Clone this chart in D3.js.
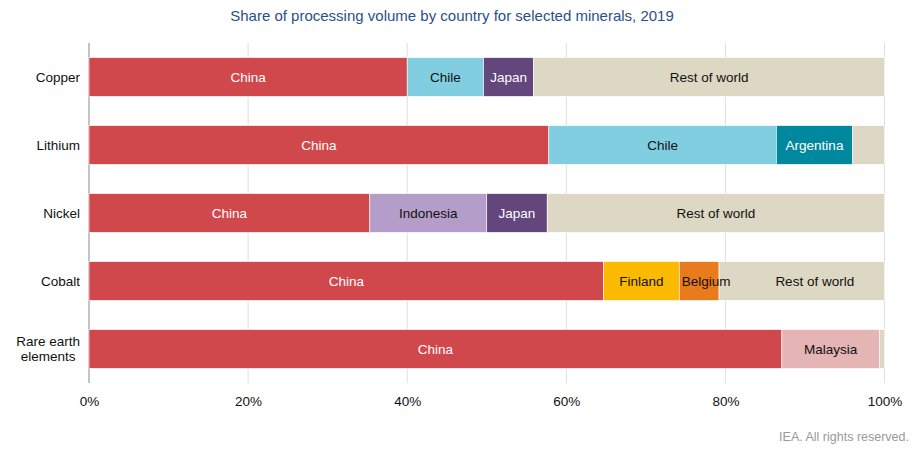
<!DOCTYPE html>
<html lang="en">
<head>
<meta charset="UTF-8">
<title>Processing volume</title>
<script src="https://d3js.org/d3.v7.min.js"></script>
<style>
    body { margin: 0; background: #fff; }
    svg text { font-family: "Liberation Sans", Arial, sans-serif; }
</style>
</head>
<body>
<div id="chart"></div>
<script>
    // minerals (rows) and the country segments for each, in %
    var minerals = ["Copper", "Lithium", "Nickel", "Cobalt", "Rare earth elements"];
    var copper = [["China", 40.0], ["Chile", 9.6], ["Japan", 6.3], ["Rest of world", 44.1]];
    var lithium = [["China", 57.8], ["Chile", 28.6], ["Argentina", 9.6], ["Rest of world", 4.0]];
    var nickel = [["China", 35.3], ["Indonesia", 14.7], ["Japan", 7.6], ["Rest of world", 42.4]];
    var cobalt = [["China", 64.7], ["Finland", 9.5], ["Belgium", 5.0], ["Rest of world", 20.8]];
    var rareEarth = [["China", 87.1], ["Malaysia", 12.25], ["Rest of world", 0.65]];
    var segments = [copper, lithium, nickel, cobalt, rareEarth];
    var ticks = [0, 20, 40, 60, 80, 100];

    var colors = {
        "China": "#d1484c", "Chile": "#81cee1", "Japan": "#63467c",
        "Rest of world": "#ddd8c3", "Argentina": "#00889e", "Indonesia": "#b49dc9",
        "Finland": "#fbb900", "Belgium": "#e97b1c", "Malaysia": "#e5b4b4"
    };
    var lightText = ["China", "Japan", "Argentina"];
    // labels that the original pushes right to avoid crowding (px)
    var labelNudge = { "Cobalt|Belgium": 7, "Cobalt|Rest of world": 13 };

    var W = 916, H = 452;
    var margin = { top: 43, right: 31.5, bottom: 69, left: 89 };
    var width = W - margin.left - margin.right,
        height = H - margin.top - margin.bottom;

    var svg = d3.select("#chart").append("svg")
        .attr("width", W).attr("height", H);

    svg.append("text")
        .attr("x", 452).attr("y", 21)
        .attr("text-anchor", "middle")
        .style("font-size", "15px").style("fill", "#2b4f8a")
        .text("Share of processing volume by country for selected minerals, 2019");

    svg.append("text")
        .attr("x", 909).attr("y", 441)
        .attr("text-anchor", "end")
        .style("font-size", "12.5px").style("fill", "#999")
        .text("IEA. All rights reserved.");

    var g = svg.append("g")
        .attr("transform", "translate(" + margin.left + "," + margin.top + ")");

    var x = d3.scaleLinear().domain([0, 100]).range([0, width]);
    var y = d3.scaleBand().domain(minerals).range([0, height])
        .paddingInner(0.43).paddingOuter(0.215);

    // gridlines
    g.selectAll(".grid").data(ticks).enter().append("line")
        .attr("x1", function (d) { return x(d); })
        .attr("x2", function (d) { return x(d); })
        .attr("y1", 0).attr("y2", height)
        .style("stroke", function (d) { return d === 0 ? "#c4c4c4" : "#dedede"; })
        .style("stroke-width", function (d) { return d === 0 ? 2 : 1; });

    // x axis labels
    var xAxis = g.append("g")
        .attr("transform", "translate(0," + height + ")")
        .call(d3.axisBottom(x).tickValues(ticks).tickSize(0).tickPadding(13)
            .tickFormat(function (d) { return d + "%"; }));
    xAxis.select(".domain").remove();
    xAxis.selectAll("text").style("font-size", "13.5px").style("fill", "#111");

    // y axis labels
    var yAxis = g.append("g")
        .call(d3.axisLeft(y).tickSize(0).tickPadding(9).tickFormat(""));
    yAxis.select(".domain").remove();
    yAxis.selectAll(".tick").each(function (d) {
        var t = d3.select(this).append("text")
            .attr("x", -9).attr("text-anchor", "end")
            .style("font-size", "13.5px").style("fill", "#111");
        if (d === "Rare earth elements") {
            // two centred lines, right edge of the widest at the axis padding
            var l1 = t.append("tspan").attr("dy", "-0.25em").text("Rare earth");
            var l2 = t.append("tspan").attr("dy", "1.15em").text("elements");
            var w = Math.max(l1.node().getComputedTextLength(), l2.node().getComputedTextLength());
            t.attr("text-anchor", "middle");
            l1.attr("x", -9 - w / 2);
            l2.attr("x", -9 - w / 2);
        } else {
            t.attr("dy", "0.35em").text(d);
        }
    });

    // stacked segments
    minerals.forEach(function (m, i) {
        var start = 0;
        var rows = segments[i].map(function (s) {
            var r = { name: s[0], x0: start, x1: start + s[1] };
            start += s[1];
            return r;
        });
        var row = g.append("g").attr("transform", "translate(0," + y(m) + ")");
        row.selectAll("rect").data(rows).enter().append("rect")
            .attr("x", function (d) { return x(d.x0); })
            .attr("width", function (d) { return x(d.x1) - x(d.x0); })
            .attr("height", y.bandwidth())
            .style("fill", function (d) { return colors[d.name]; })
            .style("stroke", "#fff").style("stroke-width", 0.6);
        row.selectAll("text").data(rows.filter(function (d) { return d.x1 - d.x0 > 4.5; }))
            .enter().append("text")
            .attr("x", function (d) {
                return x((d.x0 + d.x1) / 2) + (labelNudge[m + "|" + d.name] || 0);
            })
            .attr("y", y.bandwidth() / 2).attr("dy", "0.35em")
            .attr("text-anchor", "middle")
            .style("font-size", "13.5px")
            .style("fill", function (d) { return lightText.indexOf(d.name) >= 0 ? "#fff" : "#111"; })
            .text(function (d) { return d.name; });
    });
</script>
</body>
</html>
